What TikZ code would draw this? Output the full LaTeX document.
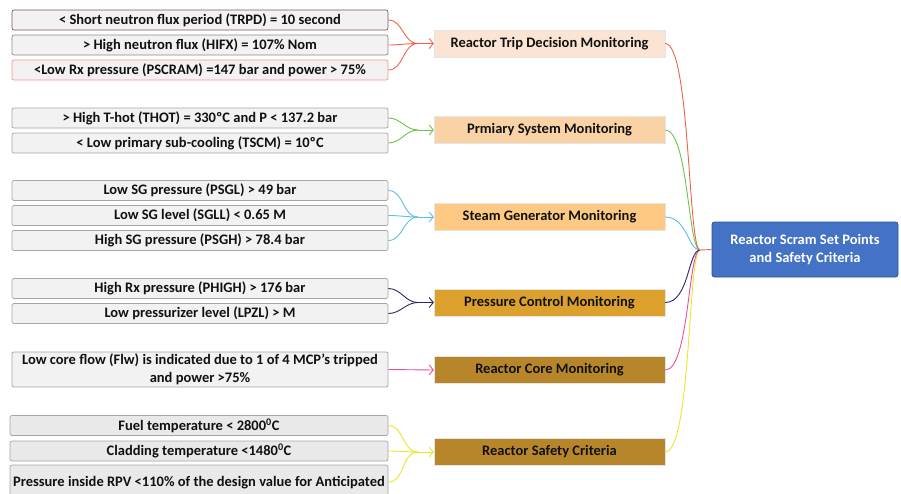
\documentclass[tikz,border=0pt]{standalone}
\usepackage{fontspec}
\setmainfont{Carlito}
\usetikzlibrary{arrows.meta,positioning}
\definecolor{ink}{HTML}{111111}
\definecolor{cgray}{HTML}{F2F2F2}
\definecolor{sgray}{HTML}{E9E9E9}
\definecolor{bgray}{HTML}{A6A6A6}
\definecolor{bdark}{HTML}{7A5858}
\definecolor{bmid}{HTML}{958686}
\definecolor{mtrip}{HTML}{FCE4D4}
\definecolor{mprim}{HTML}{F9D2A6}
\definecolor{msg}{HTML}{FDC983}
\definecolor{mpres}{HTML}{DCA02D}
\definecolor{mcore}{HTML}{B8862A}
\definecolor{scram}{HTML}{4472C4}
\definecolor{scramb}{HTML}{2F528F}
\definecolor{lred}{HTML}{F2604E}
\definecolor{lgreen}{HTML}{6DC24B}
\definecolor{lblue}{HTML}{59BFEA}
\definecolor{lnavy}{HTML}{2B2566}
\definecolor{lpink}{HTML}{E2519E}
\definecolor{lyel}{HTML}{EEE528}

\begin{document}
\begin{tikzpicture}[x=1pt, y=-1pt,
  font=\fontsize{14.5}{18}\selectfont\bfseries,
  every node/.style={align=center, text=ink},
  cond/.style={rounded corners=2pt, draw=bgray, line width=0.7pt, fill=cgray,
               inner sep=0pt, minimum width=376pt, minimum height=20pt},
  scond/.style={cond, fill=sgray, minimum width=378pt},
  mon/.style={draw=white!90!black, line width=0.4pt, inner sep=0pt,
              minimum width=231pt, minimum height=27pt},
  top/.style={rounded corners=2.5pt, draw=scramb, line width=0.8pt, fill=scram,
              text=white, inner sep=0pt, minimum width=186pt, minimum height=55pt},
  lnk/.style={line width=0.9pt, draw=#1},
  arr/.style={lnk=#1, -{Straight Barb[length=4pt, width=10pt]}},
]
\useasboundingbox (0,0) rectangle (901,493);

% conditions
\node[cond, draw=bdark] (c1) at (200,20) {< Short neutron flux period (TRPD) = 10 second};
\node[cond, draw=bmid] (c2) at (200,45) {> High neutron flux (HIFX) = 107\% Nom};
\node[cond, draw=lred!65] (c3) at (200,70) {<Low Rx pressure (PSCRAM) =147 bar and power > 75\%};
\node[cond] (c4) at (200,118) {> High T-hot (THOT) = 330ºC and P < 137.2 bar};
\node[cond] (c5) at (200,143) {< Low primary sub-cooling (TSCM) = 10ºC};
\node[cond] (c6) at (200,190.5) {Low SG pressure (PSGL) > 49 bar};
\node[cond] (c7) at (200,215.5) {Low SG level (SGLL) < 0.65 M};
\node[cond] (c8) at (200,240.5) {High SG pressure (PSGH) > 78.4 bar};
\node[cond] (c9) at (200,288.5) {High Rx pressure (PHIGH) > 176 bar};
\node[cond] (c10) at (200,313.5) {Low pressurizer level (LPZL) > M};
\node[cond, minimum height=35pt] (c11) at (200,369.5) {Low core flow (Flw) is indicated due to 1 of 4 MCP's tripped\\and power >75\%};
\node[scond] (c12) at (199,425.5) {Fuel temperature < 2800\textsuperscript{0}C};
\node[scond] (c13) at (199,451) {Cladding temperature <1480\textsuperscript{0}C};
\node[scond, minimum height=36pt] (c14) at (199,483) {Pressure inside RPV <110\% of the design value for Anticipated};

% monitoring groups
\node[mon, fill=mtrip] (trip) at (549.5,43.5) {Reactor Trip Decision Monitoring};
\node[mon, fill=mprim] (prim) at (549.5,130) {Prmiary System Monitoring};
\node[mon, fill=msg] (sg) at (549.5,217) {Steam Generator Monitoring};
\node[mon, fill=mpres] (pres) at (549.5,302.5) {Pressure Control Monitoring};
\node[mon, fill=mcore] (core) at (549.5,370) {Reactor Core Monitoring};
\node[mon, fill=mcore] (safe) at (549.5,452) {Reactor Safety Criteria};

\node[top] (scr) at (805,249.5) {Reactor Scram Set Points\\and Safety Criteria};

\coordinate (jtrip) at (418,43.5);
\coordinate (jprim) at (418,130);
\coordinate (jsg) at (418,217);
\coordinate (jpres) at (418,302.5);
\coordinate (jsafe) at (418,452);
\coordinate (hub) at (700,250);

% conditions -> groups
\foreach \c in {c1,c2,c3} \draw[lnk=lred] (\c.east) to[out=0,in=180] (jtrip);
\draw[arr=lred] (jtrip) -- (trip.west);
\foreach \c in {c4,c5} \draw[lnk=lgreen] (\c.east) to[out=0,in=180] (jprim);
\draw[arr=lgreen] (jprim) -- (prim.west);
\foreach \c in {c6,c7,c8} \draw[lnk=lblue] (\c.east) to[out=0,in=180] (jsg);
\draw[arr=lblue] (jsg) -- (sg.west);
\foreach \c in {c9,c10} \draw[lnk=lnavy] (\c.east) to[out=0,in=180] (jpres);
\draw[arr=lnavy] (jpres) -- (pres.west);
\draw[arr=lpink] (c11.east) -- (core.west);
\draw[lnk=lyel] (c12.east) to[out=0,in=180] (jsafe);
\draw[lnk=lyel] (c13.east) to[out=0,in=180] (jsafe);
\draw[lnk=lyel] (c14.east |- 0,482) to[out=0,in=180] (jsafe);
\draw[arr=lyel] (jsafe) -- (safe.west);

% groups -> scram
\draw[lnk=lyel] (safe.east) .. controls +(26,0) and +(-12,0) .. (hub);
\draw[lnk=lpink] (core.east) .. controls +(24,0) and +(-12,0) .. (hub);
\draw[lnk=lnavy] (pres.east) .. controls +(24,0) and +(-12,0) .. (hub);
\draw[lnk=lblue] (sg.east) .. controls +(22,0) and +(-12,0) .. (hub);
\draw[lnk=lgreen] (prim.east) .. controls +(23,0) and +(-12,0) .. (hub);
\draw[lnk=lred] (trip.east) .. controls +(25,0) and +(-12,0) .. (hub);
\draw[lnk=lred] (hub) -- (scr.west);
\end{tikzpicture}
\end{document}
